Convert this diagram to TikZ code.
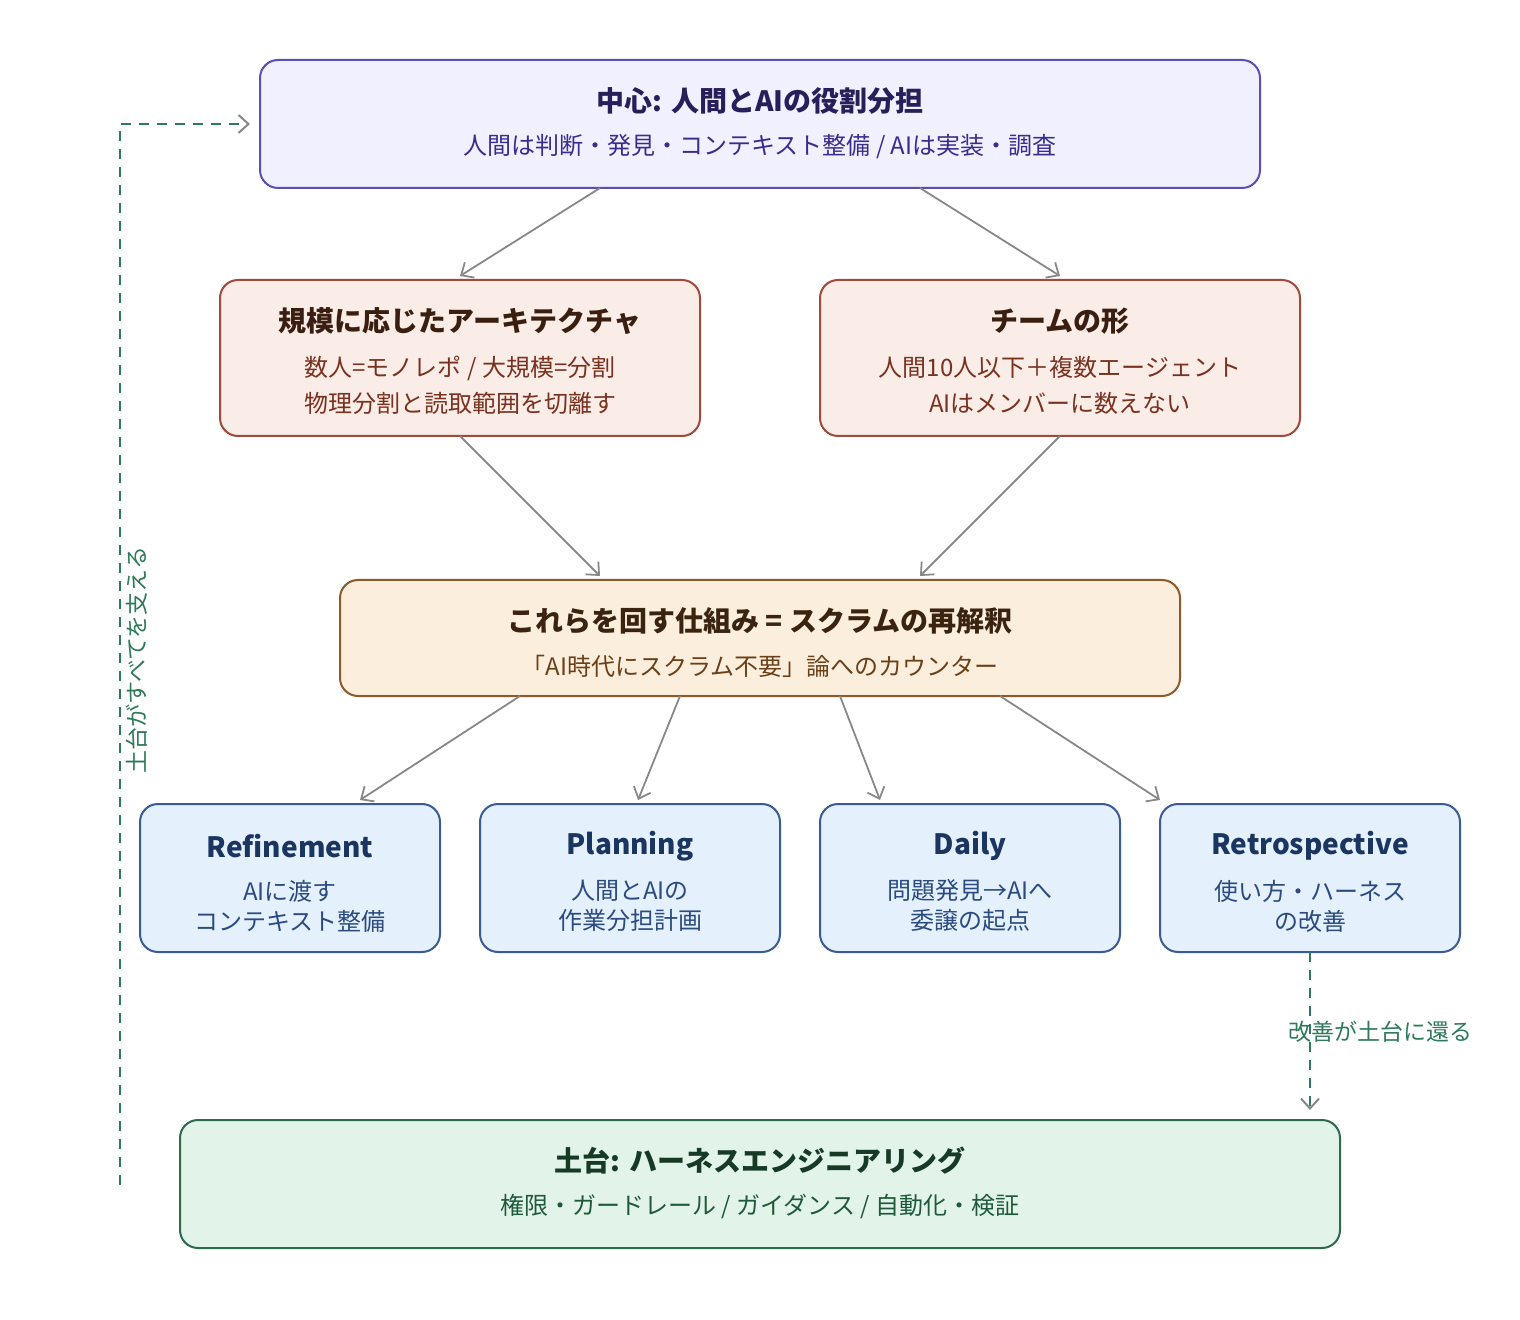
\documentclass[tikz,border=0pt]{standalone}
\usepackage{fontspec}
\setmainfont{Noto Sans CJK JP}
\usetikzlibrary{arrows.meta}
\definecolor{gr}{HTML}{888888}
\definecolor{dg}{HTML}{2E7A5A}
\begin{document}
\begin{tikzpicture}[x=0.5pt,y=-0.5pt,
 box/.style={rounded corners=9pt,line width=1pt},
 arr/.style={draw=gr,line width=0.9pt,-{Straight Barb[length=5pt,width=9pt]}},
 dsh/.style={draw=dg,line width=1pt,dash pattern=on 5pt off 4pt,-{Straight Barb[length=5pt,width=9pt,color=gr]}},
 t/.style={font=\fontsize{14}{16}\selectfont\bfseries},
 s/.style={font=\fontsize{12}{14}\selectfont}]
\useasboundingbox (0,0) rectangle (1520,1320);
% boxes
\draw[box,fill=blue!6,draw={rgb,255:red,90;green,80;blue,180}] (260,60) rectangle (1260,188);
\node[t,text={rgb,255:red,40;green,30;blue,90}] (t1) at (760,101) {中心: 人間とAIの役割分担};
\node[s,text={rgb,255:red,55;green,45;blue,140}] (s1) at (760,147) {人間は判断・発見・コンテキスト整備 / AIは実装・調査};

\definecolor{rf}{HTML}{FAECE6}\definecolor{rb}{HTML}{A04A3C}\definecolor{rt}{HTML}{3A1E10}\definecolor{rs}{HTML}{7A3220}
\draw[box,fill=rf,draw=rb] (220,280) rectangle (700,436);
\draw[box,fill=rf,draw=rb] (820,280) rectangle (1300,436);
\node[t,text=rt] (a1) at (460,321) {規模に応じたアーキテクチャ};
\node[s,text=rs,align=center] (a2) at (460,385) {数人=モノレポ / 大規模=分割\\[4pt]物理分割と読取範囲を切離す};
\node[t,text=rt] (b1) at (1060,321) {チームの形};
\node[s,text=rs,align=center] (b2) at (1060,385) {人間10人以下＋複数エージェント\\[4pt]AIはメンバーに数えない};

\definecolor{mf}{HTML}{FCEEDC}\definecolor{mb}{HTML}{8E5A2C}\definecolor{mt}{HTML}{3A2410}\definecolor{ms}{HTML}{6A4018}
\draw[box,fill=mf,draw=mb] (340,580) rectangle (1180,696);
\node[t,text=mt] (m1) at (760,621) {これらを回す仕組み = スクラムの再解釈};
\node[s,text=ms] (m2) at (760,666) {「AI時代にスクラム不要」論へのカウンター};

\definecolor{bf}{HTML}{E4F0FB}\definecolor{bb}{HTML}{3A5A98}\definecolor{bt}{HTML}{1A3560}\definecolor{bs}{HTML}{2A4A80}
\foreach \x/\ti/\la/\lb in {290/Refinement/AIに渡す/コンテキスト整備,630/Planning/人間とAIの/作業分担計画,970/Daily/問題発見→AIへ/委譲の起点,1310/Retrospective/使い方・ハーネス/の改善}{
 \draw[box,fill=bf,draw=bb] (\x-150,804) rectangle (\x+150,952);
 \node[t,text=bt] at (\x,846) {\ti};
 \node[s,text=bs,align=center] at (\x,906) {\la\\[1pt]\lb};
}
\definecolor{gf}{HTML}{E2F4EA}\definecolor{gb}{HTML}{2E6A4C}\definecolor{gt}{HTML}{163A26}\definecolor{gs}{HTML}{1E5A3A}
\draw[box,fill=gf,draw=gb] (180,1120) rectangle (1340,1248);
\node[t,text=gt] (f1) at (760,1161) {土台: ハーネスエンジニアリング};
\node[s,text=gs] (f2) at (760,1206) {権限・ガードレール / ガイダンス / 自動化・検証};

% arrows
\draw[arr] (600,188) -- (460,276);
\draw[arr] (920,188) -- (1060,276);
\draw[arr] (460,436) -- (600,576);
\draw[arr] (1060,436) -- (920,576);
\draw[arr] (520,696) -- (360,800);
\draw[arr] (680,696) -- (638,800);
\draw[arr] (840,696) -- (880,800);
\draw[arr] (1000,696) -- (1160,800);
\draw[dsh] (120,1185) -- (120,124) -- (250,124);
\node[rotate=90,text=dg,font=\fontsize{11.5}{13}\selectfont] (l1) at (137,660) {土台がすべてを支える};
\draw[dsh] (1310,952) -- (1310,1110);
\node[text=dg,font=\fontsize{11.5}{13}\selectfont,fill=white,fill opacity=0,text opacity=1,inner sep=1pt] (l2) at (1380,1032) {改善が土台に還る};
\end{tikzpicture}
\end{document}
